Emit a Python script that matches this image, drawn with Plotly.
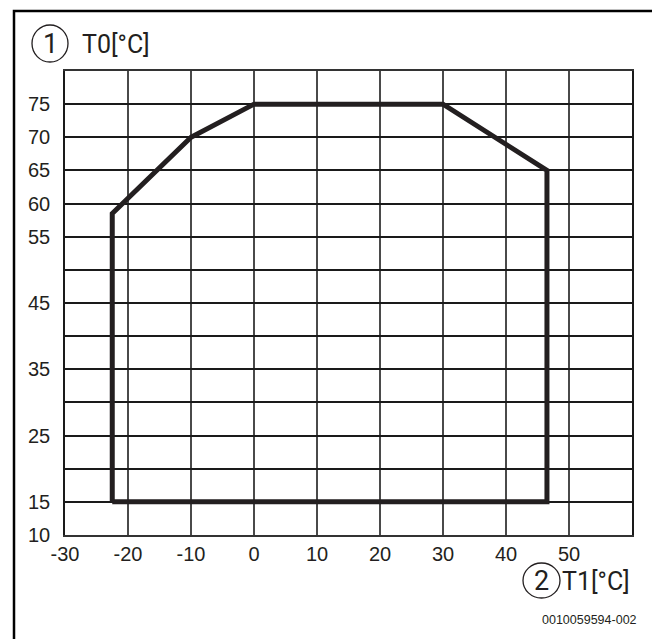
import plotly.graph_objects as go

# Data
t1_outline = [-22.5, -22.5, -10, 0, 30, 46.5, 46.5, -22.5]
t0_outline = [15, 58.5, 70, 75, 75, 65, 15, 15]

x_tick_vals = [-30, -20, -10, 0, 10, 20, 30, 40, 50, 60]
x_tick_text = ["-30", "-20", "-10", "0", "10", "20", "30", "40", "50", ""]
y_tick_vals = [10, 15, 20, 25, 30, 35, 40, 45, 50, 55, 60, 65, 70, 75, 80]
y_tick_text = ["10", "15", "", "25", "", "35", "", "45", "", "55", "60", "65", "70", "75", ""]

W, H = 660, 639
OFF = 8  # page body margin offset
# target page coordinates of the plot area
PL, PR, PT, PB = 65, 632, 71, 535
L = PL - OFF
T = PT - OFF
R = W - (PR - OFF)
B = H - (PB - OFF)
PW, PH = W - L - R, H - T - B

def px(xp):
    return (xp - OFF - L) / PW

def py(yp):
    return (H - B - (yp - OFF)) / PH

title_font = "Roboto, Liberation Sans, sans-serif"
regular = "Liberation Sans, Arial, sans-serif"
ink = "#231f20"

fig = go.Figure()
fig.add_trace(go.Scatter(
    x=t1_outline, y=t0_outline, mode="lines",
    line=dict(color=ink, width=5),
    hoverinfo="skip", showlegend=False,
))

fig.update_layout(
    width=W, height=H,
    margin=dict(l=L, r=R, t=T, b=B, autoexpand=False),
    paper_bgcolor="white", plot_bgcolor="white",
    showlegend=False,
    font=dict(family=regular, size=20, color=ink),
    xaxis=dict(
        range=[-30, 60], tickmode="array", tickvals=x_tick_vals, ticktext=x_tick_text,
        showgrid=True, gridcolor="#4a4a4a", gridwidth=1.5,
        showline=True, linecolor="#333333", linewidth=1.5, mirror=True,
        zeroline=False, ticks="", fixedrange=True,
        tickfont=dict(family=regular, size=20, color=ink),
    ),
    yaxis=dict(
        range=[10, 80], tickmode="array", tickvals=y_tick_vals, ticktext=y_tick_text,
        showgrid=True, gridcolor="#1a1a1a", gridwidth=1.5,
        showline=True, linecolor="#1a1a1a", linewidth=1.5, mirror=True,
        zeroline=False, ticks="outside", ticklen=9, tickcolor="rgba(0,0,0,0)",
        fixedrange=True,
        tickfont=dict(family=regular, size=20, color=ink),
    ),
    shapes=[
        dict(type="rect", xref="paper", yref="paper",
             x0=px(14), x1=px(654), y0=py(660), y1=py(11),
             line=dict(color="black", width=2.5), fillcolor="rgba(0,0,0,0)", layer="above"),
        dict(type="circle", xref="paper", yref="paper",
             x0=px(32), x1=px(68), y0=py(62), y1=py(25),
             line=dict(color=ink, width=1.3)),
        dict(type="circle", xref="paper", yref="paper",
             x0=px(523), x1=px(560), y0=py(598), y1=py(563),
             line=dict(color=ink, width=1.3)),
    ],
    annotations=[
        dict(text="1", xref="paper", yref="paper", x=px(50), y=py(44),
             xanchor="center", yanchor="middle", showarrow=False,
             font=dict(family=title_font, size=27, color=ink)),
        dict(text="T0[°C]", xref="paper", yref="paper", x=px(80), y=py(44),
             xanchor="left", yanchor="middle", showarrow=False,
             font=dict(family=title_font, size=25, color=ink)),
        dict(text="2", xref="paper", yref="paper", x=px(541.5), y=py(581),
             xanchor="center", yanchor="middle", showarrow=False,
             font=dict(family=title_font, size=27, color=ink)),
        dict(text="T1[°C]", xref="paper", yref="paper", x=px(560), y=py(581),
             xanchor="left", yanchor="middle", showarrow=False,
             font=dict(family=title_font, size=25, color=ink)),
        dict(text="0010059594-002", xref="paper", yref="paper", x=px(639), y=py(620),
             xanchor="right", yanchor="middle", showarrow=False,
             font=dict(family=regular, size=12.5, color=ink)),
    ],
)

fig.write_html("out.html")
